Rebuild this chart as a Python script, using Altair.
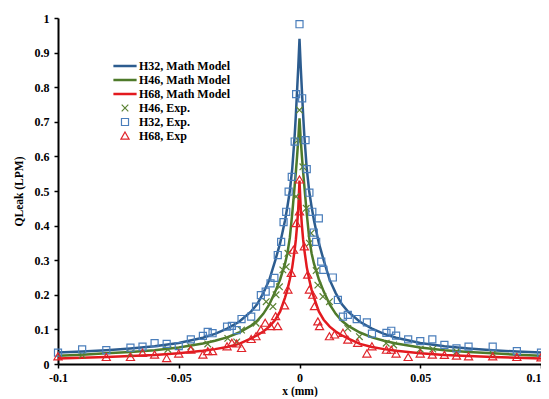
import altair as alt
import pandas as pd

# ---------------- data ----------------
series_order = ["H32, Math Model", "H46, Math Model", "H68, Math Model",
                "H46, Exp.", "H32, Exp.", "H68, Exp"]
series_colors = ["#2C5C8F", "#4E7A2A", "#E3191E", "#5B8233", "#4A7EBB", "#E0242B"]

# model curves (symmetric about x = 0), half profile from x = 0 to 0.1 mm
x_half = [0.0, 0.0005, 0.001, 0.0015, 0.002, 0.003, 0.004, 0.005, 0.006, 0.008,
          0.01, 0.0125, 0.015, 0.0175, 0.02, 0.025, 0.03, 0.035, 0.04, 0.05,
          0.06, 0.07, 0.08, 0.09, 0.1]
h32_model_half = [0.94, 0.86, 0.79, 0.72, 0.66, 0.565, 0.50, 0.455, 0.415, 0.35,
                  0.30, 0.243, 0.205, 0.173, 0.152, 0.122, 0.102, 0.087, 0.076, 0.061,
                  0.051, 0.045, 0.040, 0.036, 0.033]
h46_model_half = [0.71, 0.65, 0.60, 0.555, 0.515, 0.435, 0.365, 0.32, 0.29, 0.245,
                  0.21, 0.172, 0.145, 0.125, 0.111, 0.091, 0.077, 0.067, 0.059, 0.048,
                  0.040, 0.035, 0.031, 0.027, 0.024]
h68_model_half = [0.53, 0.45, 0.40, 0.36, 0.33, 0.28, 0.245, 0.215, 0.192, 0.152,
                  0.128, 0.108, 0.094, 0.083, 0.074, 0.058, 0.049, 0.043, 0.038, 0.031,
                  0.026, 0.023, 0.020, 0.018, 0.016]

# experimental points
h32_exp_x = [-0.1, -0.09, -0.08, -0.07, -0.065, -0.06, -0.055, -0.05, -0.045, -0.04,
             -0.038, -0.036, -0.03, -0.028, -0.026, -0.024, -0.02, -0.018, -0.016, -0.014,
             -0.012, -0.0104, -0.009, -0.0076, -0.0066, -0.0055, -0.0045, -0.0032, -0.002, -0.0014,
             0.0, 0.0011, 0.0025, 0.003, 0.0041, 0.0053, 0.0059, 0.0069, 0.008, 0.009,
             0.0099, 0.0138, 0.0159, 0.018, 0.02, 0.0237, 0.0279, 0.03, 0.036, 0.038,
             0.04, 0.045, 0.05, 0.055, 0.06, 0.065, 0.07, 0.08, 0.09, 0.1]
h32_exp_y = [0.033, 0.042, 0.040, 0.047, 0.050, 0.060, 0.058, 0.052, 0.071, 0.081,
             0.093, 0.089, 0.108, 0.110, 0.098, 0.130, 0.137, 0.166, 0.199, 0.209,
             0.233, 0.249, 0.315, 0.353, 0.41, 0.44, 0.498, 0.541, 0.643, 0.78,
             0.982, 0.768, 0.647, 0.563, 0.495, 0.44, 0.38, 0.353, 0.421, 0.296,
             0.272, 0.25, 0.185, 0.137, 0.142, 0.130, 0.12, 0.088, 0.090, 0.096,
             0.082, 0.071, 0.066, 0.071, 0.055, 0.045, 0.050, 0.050, 0.037, 0.033]

h46_exp_x = [-0.09, -0.07, -0.0545, -0.045, -0.038, -0.0297, -0.026, -0.024, -0.018, -0.0138,
             -0.011, -0.0097, -0.0083, -0.0069, -0.0055, -0.0048, -0.0014, -0.0007, 0.0, 0.0014,
             0.0028, 0.0041, 0.0048, 0.0069, 0.0076, 0.0097, 0.0124, 0.02, 0.0248, 0.0359,
             0.039, 0.05, 0.0552, 0.065, 0.08]
h46_exp_y = [0.026, 0.031, 0.042, 0.050, 0.058, 0.074, 0.064, 0.098, 0.118, 0.18,
             0.166, 0.20, 0.223, 0.272, 0.281, 0.32, 0.484, 0.647, 0.734, 0.57,
             0.45, 0.349, 0.378, 0.27, 0.228, 0.195, 0.18, 0.103, 0.079, 0.060,
             0.055, 0.043, 0.043, 0.036, 0.030]

h68_exp_x = [-0.1, -0.08, -0.07, -0.065, -0.06, -0.055, -0.05, -0.045, -0.04, -0.038,
             -0.036, -0.03, -0.028, -0.026, -0.024, -0.02, -0.018, -0.016, -0.0142, -0.012,
             -0.0099, -0.009, -0.0062, -0.0048, -0.0034, -0.0025, -0.0014, 0.0, 0.0, 0.002,
             0.0034, 0.0041, 0.0055, 0.0062, 0.0076, 0.0083, 0.0124, 0.0145, 0.018, 0.02,
             0.0241, 0.0279, 0.03, 0.036, 0.038, 0.04, 0.045, 0.05, 0.055, 0.06,
             0.065, 0.07, 0.08, 0.09, 0.1]
h68_exp_y = [0.021, 0.019, 0.019, 0.031, 0.026, 0.016, 0.029, 0.040, 0.026, 0.036,
             0.036, 0.050, 0.060, 0.058, 0.045, 0.071, 0.079, 0.098, 0.118, 0.108,
             0.137, 0.108, 0.168, 0.214, 0.262, 0.329, 0.406, 0.532, 0.44, 0.339,
             0.257, 0.214, 0.199, 0.166, 0.122, 0.108, 0.079, 0.084, 0.089, 0.069,
             0.060, 0.029, 0.050, 0.040, 0.040, 0.029, 0.019, 0.029, 0.026, 0.025,
             0.023, 0.021, 0.021, 0.019, 0.018]

x_ticks = [-0.1, -0.05, 0.0, 0.05, 0.1]
y_ticks = [0.0, 0.1, 0.2, 0.3, 0.4, 0.5, 0.6, 0.7, 0.8, 0.9, 1.0]

# ---------------- tables ----------------
def full_profile(half):
    return list(reversed(half[1:])) + list(half)

x_full = [-v for v in reversed(x_half[1:])] + list(x_half)
line_rows = []
for name, half in [("H32, Math Model", h32_model_half),
                   ("H46, Math Model", h46_model_half),
                   ("H68, Math Model", h68_model_half)]:
    for xv, yv in zip(x_full, full_profile(half)):
        line_rows.append({"x": xv, "q": yv, "series": name})
df_lines = pd.DataFrame(line_rows)

pt_rows = []
for name, xs, ys in [("H46, Exp.", h46_exp_x, h46_exp_y),
                     ("H32, Exp.", h32_exp_x, h32_exp_y),
                     ("H68, Exp", h68_exp_x, h68_exp_y)]:
    for xv, yv in zip(xs, ys):
        pt_rows.append({"x": xv, "q": yv, "series": name})
df_pts = pd.DataFrame(pt_rows)

# ---------------- chart ----------------
FONT = "Liberation Serif"
# symbol paths in unit space; with size 484 the unit maps to 11 px
line_sym = "M-1,-0.06H1V0.06H-1Z"
x_sym = "M-0.3,-0.3L0.3,0.3M-0.3,0.3L0.3,-0.3"
sq_sym = "M-0.32,-0.32H0.32V0.32H-0.32Z"
tri_sym = "M0,-0.36L0.37,0.28L-0.37,0.28Z"

color_scale = alt.Scale(domain=series_order, range=series_colors)
shape_scale = alt.Scale(domain=series_order,
                        range=[line_sym, line_sym, line_sym, x_sym, sq_sym, tri_sym])

legend = alt.Legend(
    title=None, orient="none", legendX=55, legendY=41, padding=0,
    labelFont=FONT, labelFontWeight="bold", labelFontSize=12, labelColor="black",
    symbolSize=484, symbolStrokeWidth=1.2, rowPadding=0, labelOffset=2,
    clipHeight=14,
)

x_enc = alt.X("x:Q", title="x (mm)",
              scale=alt.Scale(domain=[-0.1, 0.1], nice=False, zero=False),
              axis=alt.Axis(values=x_ticks, labelExpr="'' + datum.value",
                            labelAlign={"condition": {"test": "datum.value >= 0.1", "value": "right"},
                                        "value": "center"},
                            labelPadding=4, titlePadding=2))
y_enc = alt.Y("q:Q", title="QLeak (LPM)",
              scale=alt.Scale(domain=[0, 1], nice=False),
              axis=alt.Axis(values=y_ticks, labelExpr="'' + datum.value",
                            labelPadding=5, titlePadding=10))

lines = alt.Chart(df_lines).mark_line(strokeWidth=2.5, interpolate="linear").encode(
    x=x_enc, y=y_enc,
    color=alt.Color("series:N", scale=color_scale, legend=legend),
)

points = alt.Chart(df_pts).mark_point(filled=False, size=484, strokeWidth=1.2, opacity=1).encode(
    x=x_enc, y=y_enc,
    color=alt.Color("series:N", scale=color_scale, legend=legend),
    shape=alt.Shape("series:N", scale=shape_scale, legend=legend),
)

chart = alt.layer(lines, points).properties(
    width=483, height=346,
    autosize=alt.AutoSizeParams(type="none"),
    padding={"left": 50, "top": 10, "right": 0, "bottom": 33},
).configure_view(stroke=None).configure_axis(
    grid=False, domainColor="black", domainWidth=2,
    tickColor="black", tickWidth=1.5, tickSize=4,
    labelFont=FONT, labelFontWeight="bold", labelFontSize=12, labelColor="black",
    titleFont=FONT, titleFontWeight="bold", titleFontSize=11.5, titleColor="black",
)

chart.save("out.html", embed_options={"renderer": "svg", "actions": False})
